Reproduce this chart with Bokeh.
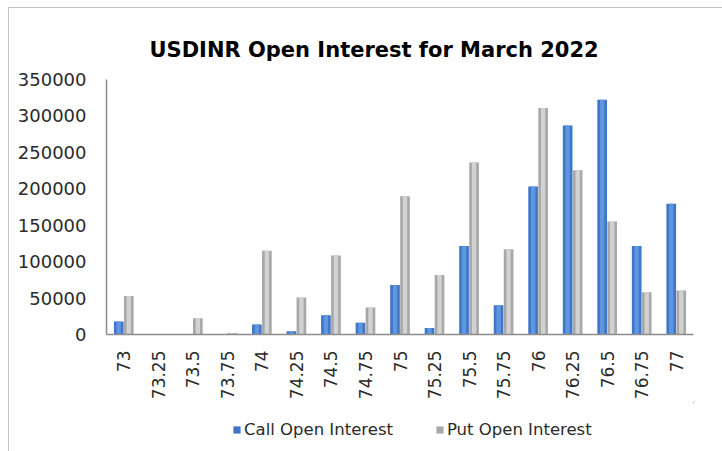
import math
from bokeh.plotting import figure
from bokeh.layouts import column
from bokeh.models import (ColumnDataSource, FactorRange, FixedTicker, BasicTickFormatter,
                          Legend, LegendItem, Title, Range1d)
from bokeh.transform import dodge
from bokeh.embed import file_html
from bokeh.resources import INLINE

strikes = ["73", "73.25", "73.5", "73.75", "74", "74.25", "74.5", "74.75", "75",
           "75.25", "75.5", "75.75", "76", "76.25", "76.5", "76.75", "77"]
call_oi = [18000, 0, 0, 0, 13600, 4500, 26300, 16000, 68000,
           9000, 121600, 40000, 203300, 286800, 322300, 121600, 179300]
put_oi = [53000, 0, 22200, 2000, 114800, 50800, 108500, 37200, 189700,
          81700, 236000, 117000, 310900, 225600, 155200, 58100, 60300]
y_ticks = [0, 50000, 100000, 150000, 200000, 250000, 300000, 350000]
series_names = ["Call Open Interest", "Put Open Interest"]

src = ColumnDataSource(dict(x=strikes, call=call_oi, put=put_oi))

FONT = "DejaVu Sans"
CALL_DARK, CALL_LIGHT = "#3f76c6", "#5f96e2"
PUT_DARK, PUT_LIGHT = "#a8a8a8", "#d2d2d2"

p = figure(width=714, height=394, x_range=FactorRange(factors=strikes, range_padding=0),
           y_range=(0, 350000), output_backend="svg", toolbar_location=None,
           min_border_left=97, min_border_right=30, min_border_top=71, min_border_bottom=66)

p.title = Title(text="USDINR Open Interest for March 2022", align="left", offset=43,
                text_font=FONT, text_font_size="21px", text_font_style="bold",
                text_color="#000000", standoff=36)

bw = 0.28
p.vbar(x=dodge("x", -0.145, range=p.x_range), top="call", width=bw, source=src,
       fill_color=CALL_DARK, line_color=None)
p.vbar(x=dodge("x", -0.145, range=p.x_range), top="call", width=bw * 0.45, source=src,
       fill_color=CALL_LIGHT, line_color=None)
p.vbar(x=dodge("x", 0.145, range=p.x_range), top="put", width=bw, source=src,
       fill_color=PUT_DARK, line_color=None)
p.vbar(x=dodge("x", 0.145, range=p.x_range), top="put", width=bw * 0.45, source=src,
       fill_color=PUT_LIGHT, line_color=None)

p.xgrid.grid_line_color = None
p.ygrid.grid_line_color = None
p.outline_line_color = None

p.yaxis.ticker = FixedTicker(ticks=y_ticks)
p.yaxis.formatter = BasicTickFormatter(use_scientific=False)
for ax in (p.xaxis, p.yaxis):
    ax.axis_line_color = "#8c8c8c"
    ax.axis_line_width = 1.5
    ax.major_tick_line_color = None
    ax.minor_tick_line_color = None
    ax.major_tick_out = 0
    ax.major_label_text_font = FONT
    ax.major_label_text_color = "#2a2a2a"
p.yaxis.major_label_text_font_size = "18px"
p.yaxis.major_label_standoff = 20
p.xaxis.major_label_text_font_size = "17px"
p.xaxis.major_label_orientation = math.pi / 2
p.xaxis.major_label_standoff = 16

# legend strip below the chart; its renderers lie fully outside the view, only swatches show
lg = figure(width=714, height=50, x_range=FactorRange(factors=strikes, range_padding=0),
            y_range=Range1d(-3, -2), output_backend="svg", toolbar_location=None,
            x_axis_type=None, y_axis_type=None,
            min_border_left=0, min_border_right=0, min_border_top=0, min_border_bottom=0)
lg.xgrid.grid_line_color = None
lg.ygrid.grid_line_color = None
lg.outline_line_color = None
r_call = lg.vbar(x=dodge("x", 100, range=lg.x_range), top="call", width=bw, source=src,
                 fill_color=CALL_DARK, line_color=None)
r_put = lg.vbar(x=dodge("x", 100, range=lg.x_range), top="put", width=bw, source=src,
                fill_color=PUT_DARK, line_color=None)

legend = Legend(items=[LegendItem(label=series_names[0], renderers=[r_call]),
                       LegendItem(label=series_names[1], renderers=[r_put])],
                orientation="horizontal", location=(126, 13), padding=0, margin=0,
                spacing=42, glyph_width=9, glyph_height=9, label_standoff=3,
                label_text_font=FONT, label_text_font_size="16.5px", label_text_color="#2a2a2a",
                border_line_color=None, background_fill_alpha=0)
lg.add_layout(legend, "center")

layout = column(p, lg, spacing=0)
layout.styles = {"border-top": "1px solid #c4c4c4", "border-left": "1px solid #c4c4c4",
                 "margin-left": "8px", "margin-top": "7px"}

open("out.html", "w").write(file_html(layout, INLINE))
